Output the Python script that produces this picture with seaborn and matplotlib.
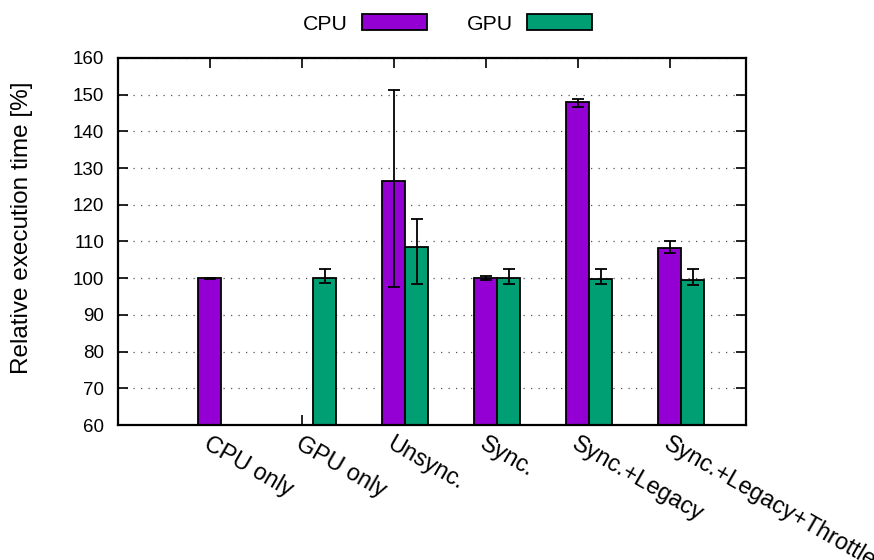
import numpy as np
import pandas as pd
import matplotlib
matplotlib.use("Agg")
import matplotlib.pyplot as plt
import seaborn as sns

# Benchmark configurations and relative execution times [%]
categories = ["CPU only", "GPU only", "Unsync.", "Sync.", "Sync.+Legacy", "Sync.+Legacy+Throttle"]
cpu_mean = [100.0, np.nan, 126.6, 100.0, 147.9, 108.1]
cpu_low = [99.9, np.nan, 97.7, 99.5, 146.6, 106.9]
cpu_high = [100.1, np.nan, 151.3, 100.5, 148.9, 110.1]
gpu_mean = [np.nan, 100.0, 108.4, 100.0, 99.9, 99.5]
gpu_low = [np.nan, 98.6, 98.3, 98.4, 98.4, 98.2]
gpu_high = [np.nan, 102.5, 116.0, 102.5, 102.5, 102.4]
series = ["CPU", "GPU"]
colors = {"CPU": "#9400D3", "GPU": "#009E73"}
y_ticks = list(range(60, 161, 10))

sns.set_style("white")
plt.rcParams["font.family"] = ["Liberation Sans", "DejaVu Sans"]
for key in ["text.color", "axes.labelcolor", "xtick.color", "ytick.color"]:
    plt.rcParams[key] = "black"

df = pd.DataFrame({
    "config": categories * 2,
    "series": ["CPU"] * len(categories) + ["GPU"] * len(categories),
    "value": cpu_mean + gpu_mean,
})

fig = plt.figure(figsize=(8.74, 5.6), dpi=100)
ax = fig.add_axes([118 / 874, 1 - 425 / 560, (746 - 118) / 874, (425 - 58) / 560])

sns.barplot(data=df, x="config", y="value", hue="series", order=categories,
            hue_order=series, palette=colors, width=0.5, dodge=True,
            saturation=1, errorbar=None, edgecolor="black", linewidth=1.3,
            legend=False, ax=ax, zorder=2)

# Asymmetric error bars placed on the drawn bars
n = len(categories)
stats = [(cpu_mean, cpu_low, cpu_high), (gpu_mean, gpu_low, gpu_high)]
for b in ax.patches:
    xc = b.get_x() + b.get_width() / 2
    i = int(round(xc))
    k = 0 if xc < i else 1
    mean, lo, hi = stats[k]
    if np.isnan(mean[i]):
        continue
    ax.errorbar(xc, mean[i], yerr=[[mean[i] - lo[i]], [hi[i] - mean[i]]],
                fmt="none", ecolor="black", elinewidth=1.3, capsize=4.5,
                capthick=1.3, zorder=3)

ax.set_ylim(60, 160)
ax.set_yticks(y_ticks)
ax.set_xlim(-1.125, 5.705)
ax.set_xticks([i - 0.125 for i in range(n)])
ax.set_xticklabels([])
for i, lab in enumerate(categories):
    ax.annotate(lab, xy=(i - 0.125, 60), xycoords="data", xytext=(1, -5),
                textcoords="offset points", rotation=-30, rotation_mode="anchor",
                ha="left", va="top", fontsize=16.8)

ax.set_xlabel("")
ax.set_ylabel("Relative execution time [%]", fontsize=17.5)
ax.yaxis.set_label_coords(-0.136, 0.537)
ax.yaxis.grid(True, linestyle=(0, (1, 5)), color="#555555", linewidth=0.9)
ax.set_axisbelow(True)
ax.tick_params(axis="both", direction="in", length=7, width=1.2, color="black",
               top=True, right=True, bottom=True, left=True)
ax.tick_params(axis="y", labelsize=13.5, pad=10)
for s in ax.spines.values():
    s.set_visible(True)
    s.set_color("black")
    s.set_linewidth(1.6)

handles = [plt.Rectangle((0, 0), 1, 1, facecolor=colors[s], edgecolor="black", linewidth=1.3)
           for s in series]
fig.legend(handles, series, loc="center", bbox_to_anchor=(0.512, 0.957), ncol=2,
           frameon=False, markerfirst=False, handlelength=3.06, handleheight=0.75,
           handletextpad=0.7, columnspacing=1.84, fontsize=15.3)

fig.savefig("out.png", dpi=100, facecolor="white")
